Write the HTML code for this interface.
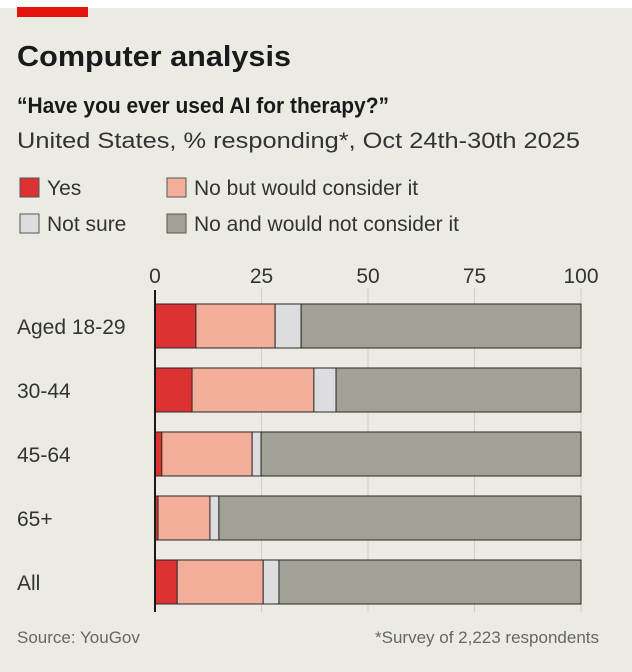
<!DOCTYPE html>
<html><head><meta charset="utf-8"><style>
body{margin:0;width:632px;height:672px;background:#fff;overflow:hidden;font-family:"Liberation Sans",sans-serif}
#c{position:absolute;left:0;top:8px;width:632px;height:664px;background:#ecebe3}
</style></head><body>
<div id="c"></div>
<svg id="s" width="632" height="672" style="position:absolute;left:0;top:0">
<rect x="17" y="7" width="71" height="10" fill="#e3120b"/>
<text x="17" y="66" font-size="29" font-weight="bold" fill="#1a1a1a" textLength="274" lengthAdjust="spacingAndGlyphs">Computer analysis</text>
<text x="17" y="113" font-size="22" font-weight="bold" fill="#1a1a1a" textLength="372" lengthAdjust="spacingAndGlyphs">“Have you ever used AI for therapy?”</text>
<text x="17" y="148" font-size="22" fill="#333" textLength="563" lengthAdjust="spacingAndGlyphs">United States, % responding*, Oct 24th-30th 2025</text>
<g id="legend"></g>
<g id="grid"></g>
<g id="bars"></g>
<line x1="155" y1="290" x2="155" y2="612" stroke="#1a1a1a" stroke-width="2"/>
<text x="17" y="643" font-size="17" fill="#666">Source: YouGov</text>
<text x="599" y="643" font-size="17" fill="#666" text-anchor="end">*Survey of 2,223 respondents</text>
</svg>
<script>
const categories=["Aged 18-29","30-44","45-64","65+","All"];
const yes=[9.6,8.7,1.6,0.7,5.2];
const considerIt=[18.6,28.6,21.2,12.2,20.2];
const notSure=[6.1,5.2,2.1,2.1,3.7];
const notConsider=[65.7,57.5,75.1,85.0,70.9];
const ticks=[0,25,50,75,100];
const seriesNames=["Yes","No but would consider it","Not sure","No and would not consider it"];
const colors=["#dc3232","#f2ae98","#dddddf","#a2a198"];
const NS="http://www.w3.org/2000/svg";
const x=v=>155+v*4.26;
const y=i=>304+i*64;
function mk(t,a,p){const e=document.createElementNS(NS,t);for(const k in a)e.setAttribute(k,a[k]);p.appendChild(e);return e;}
const grid=document.getElementById('grid');
ticks.forEach(t=>{
  if(t>0){const l=mk('line',{x1:x(t),x2:x(t),y1:288,y2:612,stroke:'#cfcdc4','stroke-width':1},grid);
  
  }
  const tx=mk('text',{x:x(t),y:283,'font-size':21,fill:'#333','text-anchor':'middle'},grid);
  tx.textContent=t;
  
  
});
const lg=document.getElementById('legend');
const lpos=[[20,178],[167,178],[20,214],[167,214]];
seriesNames.forEach((n,i)=>{
  const r=mk('rect',{x:lpos[i][0],y:lpos[i][1],width:19,height:19,fill:colors[i],stroke:'#555','stroke-width':1},lg);
  
  
  const t=mk('text',{x:lpos[i][0]+27,y:lpos[i][1]+17,'font-size':21,fill:'#333'},lg);
  t.textContent=n;
  
  
});
const bars=document.getElementById('bars');
const series=[yes,considerIt,notSure,notConsider];
categories.forEach((c,i)=>{
  const t=mk('text',{x:17,y:y(i)+30,'font-size':21,fill:'#333'},bars);
  t.textContent=c;
  
  
  let acc=0;
  series.forEach((s,j)=>{
    const r=mk('rect',{x:x(acc),y:y(i),width:x(acc+s[i])-x(acc),height:44,fill:colors[j],stroke:'#2a2a2a','stroke-width':1},bars);
    
    
    acc+=s[i];
  });
});
</script>
</body></html>
